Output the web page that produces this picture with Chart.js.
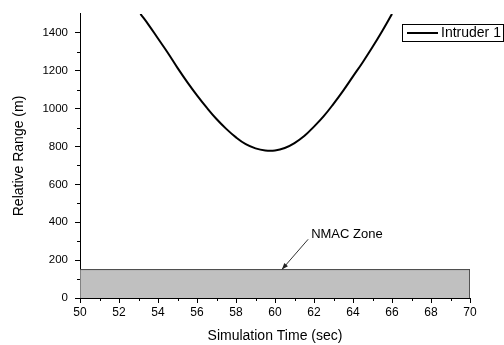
<!DOCTYPE html>
<html>
<head>
<meta charset="utf-8">
<script src="https://cdn.jsdelivr.net/npm/chart.js@4"></script>
<style>
    html, body { margin: 0; padding: 0; background: #fff; }
    #wrap { width: 504px; height: 345px; }
</style>
</head>
<body>
<div id="wrap"><canvas id="myChart"></canvas></div>
<script>
// relative range to intruder over the simulation
const time = [53.1, 53.5, 54.0, 54.5, 55.0, 55.5, 56.0, 56.5, 57.0, 57.5, 58.0, 58.5, 59.0, 59.5,
              60.0, 60.5, 61.0, 61.5, 62.0, 62.5, 63.0, 63.5, 64.0, 64.5, 65.0, 65.5, 66.0];
const range = [1500, 1445, 1370, 1295, 1215, 1140, 1070, 1005, 945, 893, 848, 812, 790, 779,
               779, 792, 818, 855, 905, 960, 1025, 1095, 1170, 1245, 1325, 1410, 1500];

// near mid-air collision zone outline
const nmacTime = [50, 50, 70, 70];
const nmacRange = [0, 150, 150, 0];

// annotation: label position and arrow tip
const noteText = 'NMAC Zone';
const noteFrom = [61.7, 310];
const noteTo = [60.35, 150];

const xTicks = [50, 52, 54, 56, 58, 60, 62, 64, 66, 68, 70];
const yTicks = [0, 200, 400, 600, 800, 1000, 1200, 1400];

const font = 'Arial, "Liberation Sans", sans-serif';

const extras = {
    id: 'extras',
    afterDraw(chart) {
        const ctx = chart.ctx;
        const x = chart.scales.x;
        const y = chart.scales.y;
        const area = chart.chartArea;
        ctx.save();

        // minor ticks
        ctx.strokeStyle = '#000';
        ctx.lineWidth = 1;
        ctx.beginPath();
        for (let v = 51; v < 70; v += 2) {
            const px = Math.round(x.getPixelForValue(v)) + 0.5;
            ctx.moveTo(px, area.bottom);
            ctx.lineTo(px, area.bottom + 3);
        }
        for (let v = 100; v < 1500; v += 200) {
            const py = Math.round(y.getPixelForValue(v)) + 0.5;
            ctx.moveTo(area.left, py);
            ctx.lineTo(area.left - 3, py);
        }
        ctx.stroke();

        // annotation arrow
        const x0 = x.getPixelForValue(noteFrom[0]);
        const y0 = y.getPixelForValue(noteFrom[1]);
        const x1 = x.getPixelForValue(noteTo[0]);
        const y1 = y.getPixelForValue(noteTo[1]);
        ctx.strokeStyle = '#333';
        ctx.fillStyle = '#222';
        ctx.beginPath();
        ctx.moveTo(x0, y0);
        ctx.lineTo(x1, y1);
        ctx.stroke();
        const a = Math.atan2(y1 - y0, x1 - x0);
        ctx.beginPath();
        ctx.moveTo(x1, y1);
        ctx.lineTo(x1 - 7 * Math.cos(a - 0.35), y1 - 7 * Math.sin(a - 0.35));
        ctx.lineTo(x1 - 7 * Math.cos(a + 0.35), y1 - 7 * Math.sin(a + 0.35));
        ctx.closePath();
        ctx.fill();

        ctx.fillStyle = '#000';
        ctx.font = '13px ' + font;
        ctx.textAlign = 'left';
        ctx.textBaseline = 'middle';
        ctx.fillText(noteText, x0 + 3, y0 - 5);

        // legend box
        ctx.fillStyle = '#fff';
        ctx.fillRect(402, 24, 102, 17);
        ctx.strokeStyle = '#000';
        ctx.lineWidth = 1;
        ctx.strokeRect(402.5, 24.5, 101, 17);
        ctx.lineWidth = 2;
        ctx.beginPath();
        ctx.moveTo(407, 33);
        ctx.lineTo(438, 33);
        ctx.stroke();
        ctx.fillStyle = '#000';
        ctx.font = '14px ' + font;
        ctx.fillText(chart.data.datasets[0].label, 441, 33.5);

        ctx.restore();
    }
};

const config = {
    type: 'line',
    data: {
        datasets: [{
            label: 'Intruder 1',
            data: time.map((t, i) => ({x: t, y: range[i]})),
            borderColor: '#000',
            borderWidth: 2,
            pointRadius: 0,
            tension: 0.4,
            fill: false
        }, {
            label: 'NMAC',
            data: nmacTime.map((t, i) => ({x: t, y: nmacRange[i]})),
            borderColor: '#444',
            borderWidth: 1,
            backgroundColor: '#c0c0c0',
            pointRadius: 0,
            tension: 0,
            fill: 'origin',
            order: 1
        }]
    },
    options: {
        responsive: false,
        animation: false,
        layout: { padding: { top: 12, right: 34 } },
        plugins: {
            legend: { display: false },
            tooltip: { enabled: false }
        },
        scales: {
            x: {
                type: 'linear',
                min: 50,
                max: 70,
                afterFit: (s) => { s.height = 47; },
                afterBuildTicks: (s) => { s.ticks = xTicks.map(v => ({value: v})); },
                border: { color: '#000', width: 1 },
                grid: { drawOnChartArea: false, color: '#000', tickLength: 5 },
                ticks: { color: '#000', padding: 2, maxRotation: 0, font: { family: font, size: 12 }, callback: (v) => String(v) },
                title: { display: true, text: 'Simulation Time (sec)', color: '#000', padding: { top: 0, bottom: 0 }, font: { family: font, size: 14 } }
            },
            y: {
                min: 0,
                max: 1500,
                afterFit: (s) => { s.width = 80; },
                afterBuildTicks: (s) => { s.ticks = yTicks.map(v => ({value: v})); },
                border: { color: '#000', width: 1 },
                grid: { drawOnChartArea: false, color: '#000', tickLength: 5 },
                ticks: { color: '#000', padding: 7, font: { family: font, size: 11.5 }, callback: (v) => String(v) },
                title: { display: true, text: 'Relative Range (m)', color: '#000', padding: { top: 11, bottom: 0 }, font: { family: font, size: 14 } }
            }
        }
    },
    plugins: [extras]
};

const canvas = document.getElementById('myChart');
canvas.width = 504;
canvas.height = 345;
const myChart = new Chart(canvas, config);
</script>
</body>
</html>
